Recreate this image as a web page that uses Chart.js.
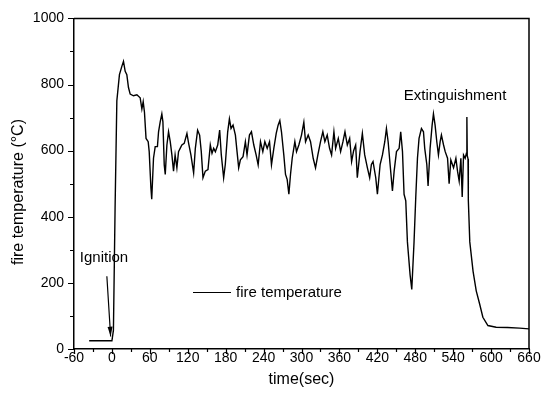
<!DOCTYPE html>
<html>
<head>
<meta charset="utf-8">
<script src="https://cdn.jsdelivr.net/npm/chart.js@4/dist/chart.umd.min.js"></script>
<style>
  html, body { margin: 0; padding: 0; background: #fff; }
  canvas { display: block; }
</style>
</head>
<body>
<canvas id="fire" width="543" height="399"></canvas>
<script>
// time (s) and fire temperature (deg C)
const times = [
  -36, 0, 2.4, 5, 7.8, 11.9, 15.7, 18.3, 21, 23.6, 26.2, 28.9, 34.1, 39.5, 44.7, 47.4, 49.5, 51.5, 54, 57.4,
  59, 61.7, 63, 65.8, 68.5, 72, 73.8, 76.4, 79, 80.7, 82.8, 84.4, 87, 89.6, 92.3, 94.9, 97.5, 100, 102.8, 105.4,
  108, 110.7, 114.4, 118.7, 121.4, 125, 129.3, 132, 135.6, 138.8, 141.4, 144.1, 147.8, 152, 155.7, 158.4, 161, 163.7, 167.4, 170.5,
  173.1, 176.8, 179.4, 183.2, 185.9, 188.5, 191.7, 195.4, 198, 200.6, 203.3, 207.5, 211.2, 213.8, 217.6, 220.8, 224.5, 228.2, 231.4, 235.1,
  238.8, 242, 245.7, 249.4, 252.5, 256.2, 260, 263, 265.7, 268.3, 272, 274.7, 277.3, 280, 282.6, 285.3, 289.5, 292.1, 295.8, 300,
  303.7, 306.4, 310.6, 314.3, 318.5, 322.2, 325.9, 330.1, 333.8, 337, 340.7, 344.4, 347.6, 351.3, 354, 358.2, 361.9, 365.6, 368.8, 372.5,
  376.2, 379.3, 382.5, 385.7, 388.3, 392.6, 396.3, 400, 404.3, 407.9, 410.6, 413.2, 417.5, 420.1, 424.4, 428.1, 431.8, 434.4, 437.1, 440.2,
  443.9, 446.6, 450.3, 454.5, 457, 459.8, 462.3, 465, 467.6, 471.8, 474.5, 478.1, 480.8, 483.5, 486, 489.8, 493, 495, 498.3, 500.3,
  503.5, 506.7, 508.8, 511.4, 514.1, 516.7, 519.4, 521.4, 524.8, 527.4, 531.1, 533.6, 536.3, 540.6, 544.3, 546.9, 549.5, 552.2, 554.3, 556.4,
  559, 561, 561.7, 562.3, 563.5, 564, 566.3, 571.5, 576.5, 581.8, 587, 595, 608, 626, 645, 660
];
const temps = [
  25, 25, 57, 424, 751, 830, 855, 870, 840, 830, 791, 771, 766, 769, 760, 726, 748, 716, 637, 627,
  597, 488, 453, 577, 612, 612, 657, 687, 711, 687, 557, 528, 617, 657, 627, 587, 538, 587, 548, 597,
  607, 617, 622, 652, 622, 587, 533, 607, 662, 647, 597, 518, 538, 543, 617, 592, 607, 597, 617, 662,
  587, 518, 558, 657, 696, 667, 677, 647, 597, 548, 572, 582, 627, 587, 647, 657, 617, 587, 557, 627,
  597, 627, 607, 627, 557, 607, 652, 677, 691, 657, 587, 528, 513, 468, 528, 577, 627, 597, 617, 647,
  686, 627, 647, 627, 577, 548, 587, 627, 657, 627, 647, 607, 587, 657, 607, 637, 597, 627, 657, 617,
  637, 567, 600, 617, 518, 597, 652, 587, 548, 518, 558, 567, 518, 468, 558, 587, 627, 667, 627, 558,
  478, 538, 597, 607, 657, 597, 468, 448, 324, 225, 180, 324, 458, 577, 637, 667, 657, 607, 558, 493,
  607, 677, 711, 677, 627, 587, 627, 647, 617, 597, 577, 500, 572, 548, 577, 538, 508, 577, 460, 587,
  577, 592, 702, 585, 575, 450, 324, 235, 176, 137, 96, 71, 66, 65, 63, 61
];

const xTicks = [-60, 0, 60, 120, 180, 240, 300, 360, 420, 480, 540, 600, 660];
const yTicks = [0, 200, 400, 600, 800, 1000];
const xMinorStep = 30;
const yMinorStep = 100;

const seriesLabel = 'fire temperature';
const yTitle = 'fire temperature (\u00B0C)';
const xTitle = 'time(sec)';

// annotations in data units
const ignitionText = { x: -12.5, y: 277, text: 'Ignition' };
const ignitionArrow = { from: [-8, 220], to: [-2, 38] };
const extinguishText = { x: 543, y: 765, text: 'Extinguishment' };

const FONT = "'Liberation Sans', Arial, sans-serif";

const points = times.map((t, i) => ({ x: t, y: temps[i] }));

// frame, minor/major ticks, legend, text labels
const decor = {
  id: 'decor',
  afterDraw(chart) {
    const { ctx, chartArea: a, scales: { x, y } } = chart;
    ctx.save();
    ctx.strokeStyle = '#000';
    ctx.lineWidth = 1.5;
    ctx.beginPath();
    ctx.moveTo(a.left, a.top);
    ctx.lineTo(a.right, a.top);
    ctx.lineTo(a.right, a.bottom);
    ctx.stroke();

    ctx.lineWidth = 1.2;
    ctx.beginPath();
    for (let v = xTicks[0]; v <= xTicks[xTicks.length - 1]; v += xMinorStep) {
      const px = Math.round(x.getPixelForValue(v)) + 0.5;
      const len = xTicks.includes(v) ? 5 : 3;
      ctx.moveTo(px, a.bottom);
      ctx.lineTo(px, a.bottom + len);
    }
    for (let v = yTicks[0]; v <= yTicks[yTicks.length - 1]; v += yMinorStep) {
      const py = Math.round(y.getPixelForValue(v)) + 0.5;
      const len = yTicks.includes(v) ? 6 : 4;
      ctx.moveTo(a.left, py);
      ctx.lineTo(a.left - len, py);
    }
    ctx.stroke();

    // y title, a bit below centre like the original
    ctx.fillStyle = '#000';
    ctx.font = '16px ' + FONT;
    ctx.textAlign = 'center';
    ctx.textBaseline = 'middle';
    ctx.save();
    ctx.translate(19, 192);
    ctx.rotate(-Math.PI / 2);
    ctx.fillText(yTitle, 0, 0);
    ctx.restore();

    // legend
    ctx.lineWidth = 1;
    ctx.beginPath();
    ctx.moveTo(193, 292.5);
    ctx.lineTo(231, 292.5);
    ctx.stroke();
    ctx.textAlign = 'left';
    ctx.font = '15px ' + FONT;
    ctx.fillText(seriesLabel, 236, 293);

    // annotations
    ctx.textAlign = 'center';
    ctx.fillText(ignitionText.text, x.getPixelForValue(ignitionText.x), y.getPixelForValue(ignitionText.y));
    ctx.fillText(extinguishText.text, x.getPixelForValue(extinguishText.x), y.getPixelForValue(extinguishText.y));

    const x0 = x.getPixelForValue(ignitionArrow.from[0]);
    const y0 = y.getPixelForValue(ignitionArrow.from[1]);
    const x1 = x.getPixelForValue(ignitionArrow.to[0]);
    const y1 = y.getPixelForValue(ignitionArrow.to[1]);
    const ang = Math.atan2(y1 - y0, x1 - x0);
    ctx.lineWidth = 1.2;
    ctx.beginPath();
    ctx.moveTo(x0, y0);
    ctx.lineTo(x1, y1);
    ctx.stroke();
    ctx.beginPath();
    ctx.moveTo(x1, y1);
    ctx.lineTo(x1 - 10 * Math.cos(ang - 0.25), y1 - 10 * Math.sin(ang - 0.25));
    ctx.lineTo(x1 - 10 * Math.cos(ang + 0.25), y1 - 10 * Math.sin(ang + 0.25));
    ctx.closePath();
    ctx.fill();
    ctx.restore();
  }
};

new Chart(document.getElementById('fire'), {
  type: 'line',
  data: {
    datasets: [{
      label: seriesLabel,
      data: points,
      borderColor: '#000',
      borderWidth: 1.4,
      pointRadius: 0,
      tension: 0,
      fill: false
    }]
  },
  options: {
    responsive: false,
    animation: false,
    devicePixelRatio: 1,
    layout: { padding: { top: 13, right: 14, left: 0, bottom: 0 } },
    plugins: {
      legend: { display: false },
      tooltip: { enabled: false }
    },
    scales: {
      x: {
        type: 'linear',
        min: -60,
        max: 660,
        afterBuildTicks: s => { s.ticks = xTicks.map(v => ({ value: v })); },
        afterFit: s => { s.height = 50; },
        ticks: { color: '#000', font: { family: FONT, size: 14 }, padding: 1, maxRotation: 0, autoSkip: false,
                 callback: v => String(v) },
        grid: { drawOnChartArea: false, drawTicks: false },
        border: { color: '#000', width: 1.5 },
        title: { display: true, text: xTitle, color: '#000', font: { family: FONT, size: 16 }, padding: { top: 0, bottom: 10 } }
      },
      y: {
        min: 0,
        max: 1000,
        afterBuildTicks: s => { s.ticks = yTicks.map(v => ({ value: v })); },
        afterFit: s => { s.width = 74; },
        ticks: { color: '#000', font: { family: FONT, size: 14 }, padding: 10, autoSkip: false,
                 callback: v => String(v) },
        grid: { drawOnChartArea: false, drawTicks: false },
        border: { color: '#000', width: 1.5 }
      }
    }
  },
  plugins: [decor]
});
</script>
</body>
</html>
